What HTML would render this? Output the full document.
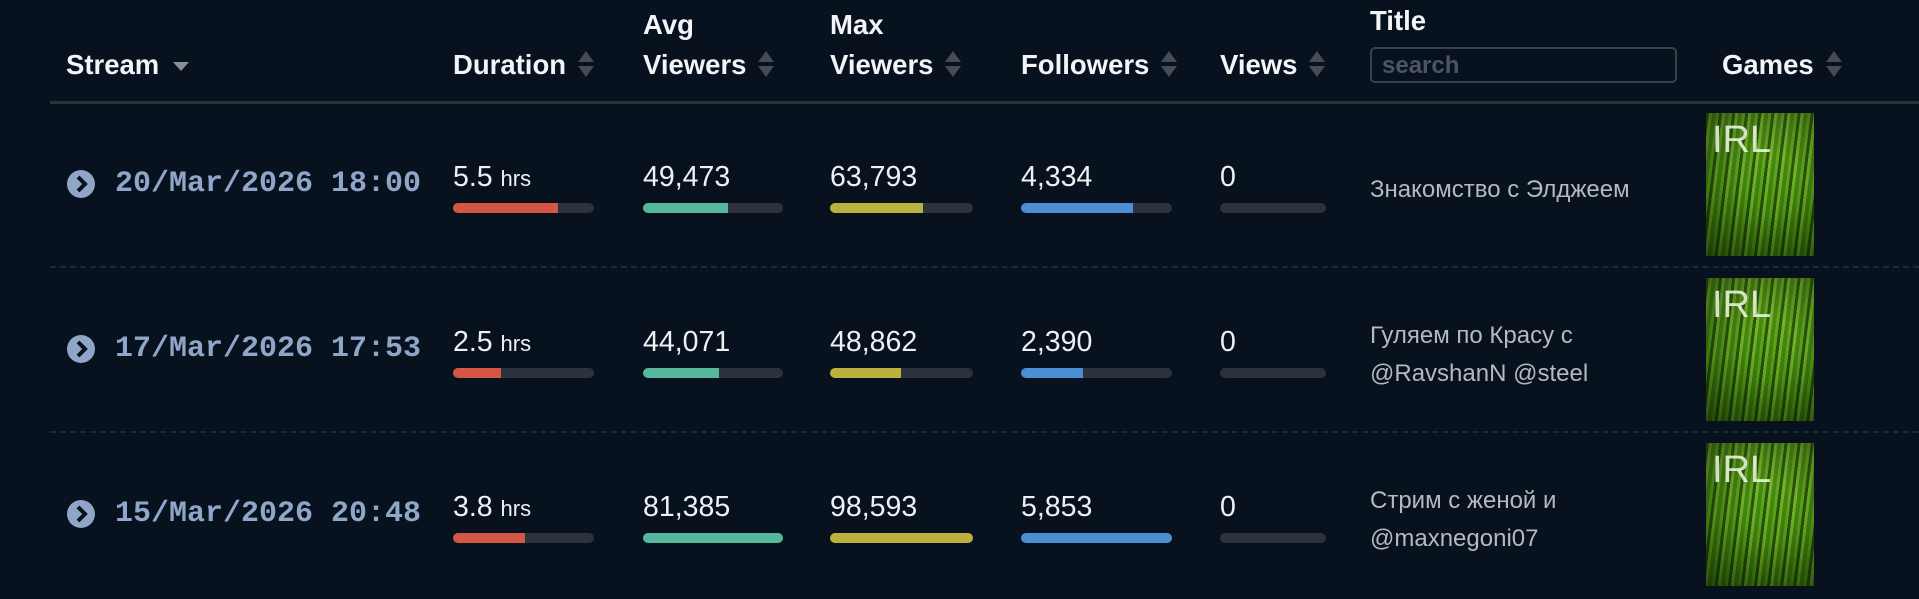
<!DOCTYPE html>
<html><head><meta charset="utf-8">
<style>
html,body{margin:0;padding:0;background:#08111e;width:1919px;height:599px;overflow:hidden;font-family:"Liberation Sans","Noto Sans CJK SC",sans-serif;}
.abs{position:absolute;}
.hdr{color:#f2f4f7;font-weight:bold;font-size:27.5px;line-height:30px;position:absolute;white-space:nowrap;}
.sort{display:inline-block;vertical-align:middle;margin-left:12px;width:16px;height:26px;position:relative;top:-3px;}
.sort:before{content:"";position:absolute;left:0;top:0;border-left:8px solid transparent;border-right:8px solid transparent;border-bottom:11px solid #454c58;}
.sort:after{content:"";position:absolute;left:0;bottom:0;border-left:8px solid transparent;border-right:8px solid transparent;border-top:11px solid #454c58;}
.num{color:#eef0f3;font-size:28.5px;position:absolute;white-space:nowrap;line-height:30px;}
.num small{font-size:22px;}
.track{position:absolute;height:10px;border-radius:5px;background:#2c323e;overflow:hidden;}
.fill{position:absolute;left:0;top:0;height:10px;}
.date{position:absolute;color:#8fa6c9;font-family:"Liberation Mono",monospace;font-weight:bold;font-size:30px;line-height:34px;white-space:nowrap;}
.icon{position:absolute;width:28px;height:28px;border-radius:50%;background:#8fa6c9;}
.title{position:absolute;color:#b5b9c0;font-size:24px;line-height:38px;width:310px;}
.game{position:absolute;width:108px;height:143px;overflow:hidden;
background:radial-gradient(ellipse at 60% 50%,rgba(0,0,0,0) 30%,rgba(10,30,0,.55) 100%),repeating-linear-gradient(97deg,rgba(10,40,0,.6) 0 3px,rgba(170,225,70,.35) 3px 6px,rgba(50,110,10,.45) 6px 10px,rgba(120,190,40,.3) 10px 13px),linear-gradient(180deg,#6fb025,#4a9012 55%,#2a5a06);}
.game span{position:absolute;left:6px;top:6px;color:rgba(240,250,230,.85);font-size:38px;font-family:"Liberation Sans",sans-serif;}
.sep{position:absolute;left:50px;right:0;height:0;border-top:2px dashed #1f2835;}
</style></head>
<body>
<div class="hdr" style="left:66px;top:50px;">Stream <span style="display:inline-block;border-left:8px solid transparent;border-right:8px solid transparent;border-top:9px solid #8a8f97;vertical-align:middle;margin-left:6px;"></span></div>
<div class="hdr" style="left:453px;top:50px;">Duration<span class="sort"></span></div>
<div class="hdr" style="left:643px;top:5px;line-height:40px;">Avg<br>Viewers<span class="sort"></span></div>
<div class="hdr" style="left:830px;top:5px;line-height:40px;">Max<br>Viewers<span class="sort"></span></div>
<div class="hdr" style="left:1021px;top:50px;">Followers<span class="sort"></span></div>
<div class="hdr" style="left:1220px;top:50px;">Views<span class="sort"></span></div>
<div class="hdr" style="left:1370px;top:6px;">Title</div>
<div class="abs" style="left:1370px;top:47px;width:307px;height:36px;border:2px solid #3a414c;border-radius:5px;color:#4d5562;font-size:24px;font-weight:bold;line-height:34px;padding-left:10px;box-sizing:border-box;">search</div>
<div class="hdr" style="left:1722px;top:50px;">Games<span class="sort"></span></div>
<div class="abs" style="left:50px;right:0;top:101px;height:3px;background:#2a313b;"></div>
<div id="rows"></div>
<script>
const dates=["20/Mar/2026 18:00","17/Mar/2026 17:53","15/Mar/2026 20:48"];
const durations=[5.5,2.5,3.8];
const avgViewers=[49473,44071,81385];
const maxViewers=[63793,48862,98593];
const followers=[4334,2390,5853];
const views=[0,0,0];
const titles=[["Знакомство с Элджеем"],["Гуляем по Красу с","@RavshanN @steel"],["Стрим с женой и","@maxnegoni07"]];
const durationMax=7.4;
const root=document.getElementById('rows');
function rowY(i){return 184+i*165;}
function scale(v,m,w){return m>0?Math.max(0,Math.min(1,v/m))*w:0;}
function mk(cls,style){const d=document.createElement('div');d.className=cls;d.setAttribute('style',style);root.appendChild(d);return d;}
const cols=[
 {x:453,w:141,c:"#d65645",vals:durations,max:durationMax,fmt:v=>v.toFixed(1)+' <small>hrs</small>',n:'duration'},
 {x:643,w:140,c:"#55b79b",vals:avgViewers,max:Math.max(...avgViewers),fmt:v=>v.toLocaleString('en-US'),n:'avg-viewers'},
 {x:830,w:143,c:"#bbb13c",vals:maxViewers,max:Math.max(...maxViewers),fmt:v=>v.toLocaleString('en-US'),n:'max-viewers'},
 {x:1021,w:151,c:"#4a8fd1",vals:followers,max:Math.max(...followers),fmt:v=>v.toLocaleString('en-US'),n:'followers'},
 {x:1220,w:106,c:"#4a8fd1",vals:views,max:Math.max(...views),fmt:v=>v.toLocaleString('en-US'),n:'views'}
];
for(let i=0;i<dates.length;i++){
 const cy=rowY(i);
 const ic=mk('icon','left:67px;top:'+(cy-14)+'px;');
 
 
 ic.innerHTML='<svg width="28" height="28"><path d="M11 7 L18 14 L11 21" stroke="#08111e" stroke-width="4" fill="none"/></svg>';
 const d=mk('date','left:115px;top:'+(cy-17)+'px;');
 
 
 d.textContent=dates[i];
 cols.forEach(c=>{
  const t=mk('num','left:'+c.x+'px;top:'+(cy-22)+'px;');
  
  
  t.innerHTML=c.fmt(c.vals[i]);
  const tr=mk('track','left:'+c.x+'px;top:'+(cy+19)+'px;width:'+c.w+'px;');
  
  
  const f=document.createElement('div');f.className='fill';
  f.style.width=scale(c.vals[i],c.max,c.w)+'px';f.style.background=c.c;
  
  
  tr.appendChild(f);
 });
 const lines=titles[i];
 const tt=mk('title','left:1370px;top:'+(cy-lines.length*19+6)+'px;');
 
 
 tt.innerHTML=lines.join('<br>');
 const g=mk('game','left:1706px;top:'+(cy-71)+'px;');
 
 
 g.innerHTML='<span>IRL</span>';
 if(i<dates.length-1){
  const s=mk('sep','top:'+(cy+82)+'px;');
  
  
 }
}
</script>
</body></html>
